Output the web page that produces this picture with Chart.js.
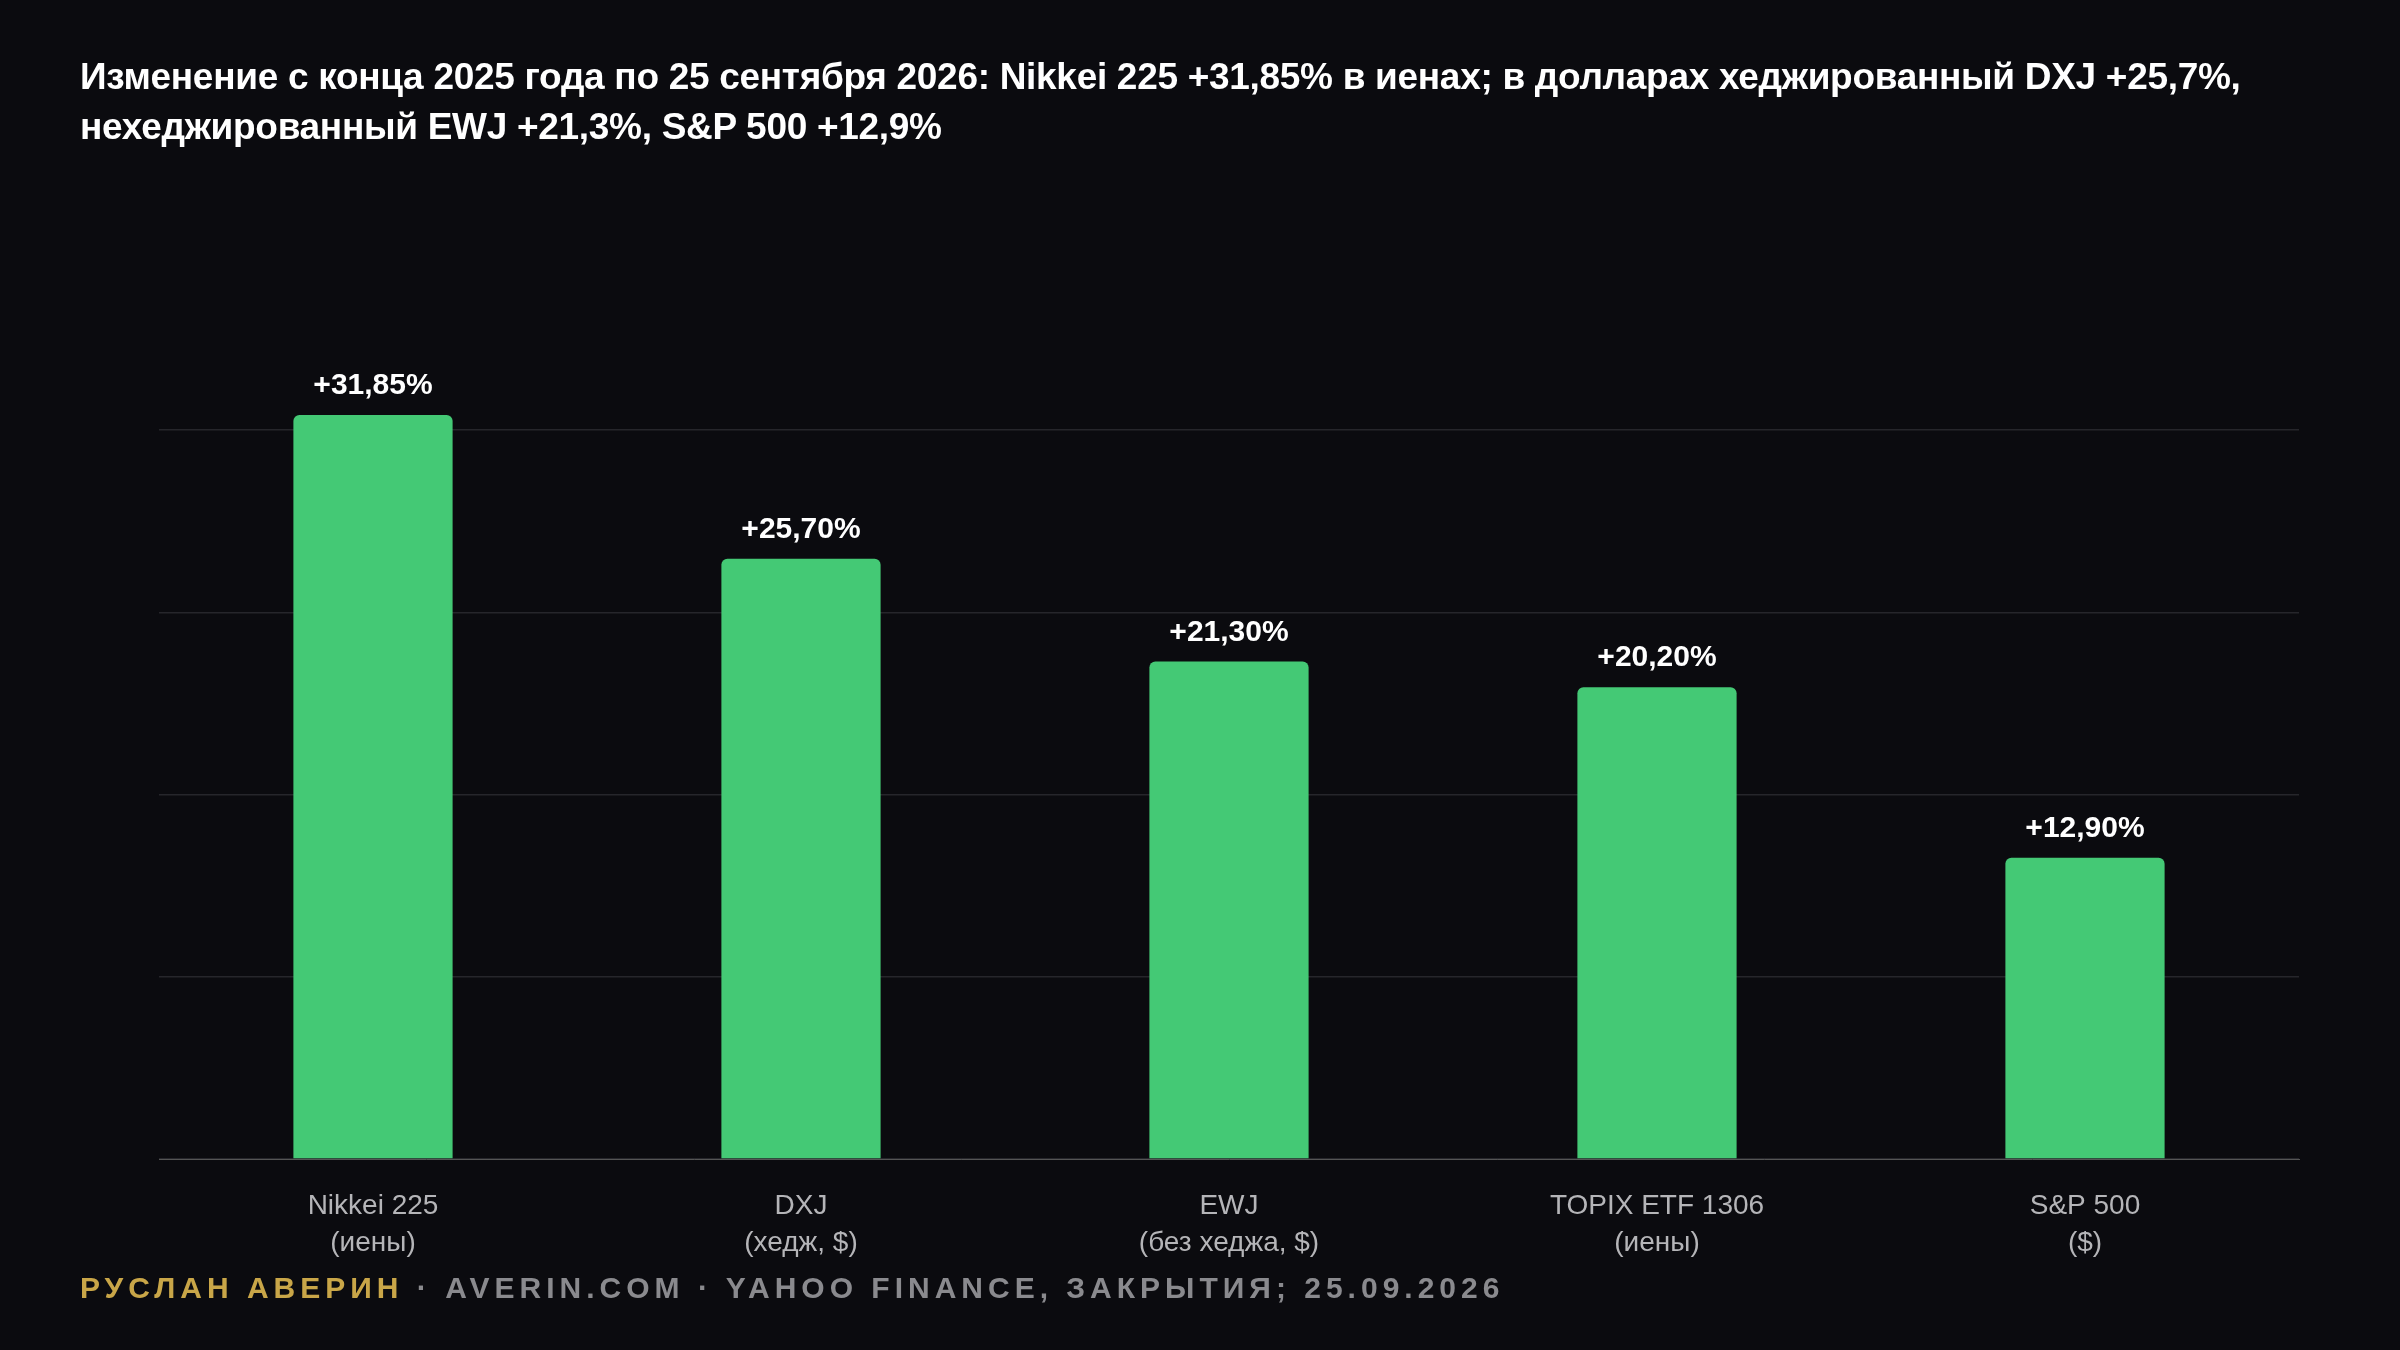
<!DOCTYPE html>
<html><head><meta charset="utf-8">
<script src="https://cdn.jsdelivr.net/npm/chart.js@4"></script>
<style>
html,body{margin:0;padding:0;background:#0b0b0f;width:2400px;height:1350px;overflow:hidden;font-family:"Liberation Sans",Arial,sans-serif}
#title{position:absolute;left:80px;top:52px;width:2180px;color:#fff;font-weight:bold;font-size:37px;line-height:50px;letter-spacing:-0.3px}
#foot{position:absolute;left:80px;top:1271px;font-weight:bold;font-size:30px;letter-spacing:5px;color:#8a8a8e}
#foot b{color:#c9a648}
#wrap{position:absolute;left:0;top:0;width:2400px;height:1350px}
</style></head><body>
<div id="wrap"><canvas id="c"></canvas></div>
<div id="title">Изменение с конца 2025 года по 25 сентября 2026: Nikkei 225 +31,85% в иенах; в долларах хеджированный DXJ +25,7%, нехеджированный EWJ +21,3%, S&amp;P 500 +12,9%</div>
<div id="foot"><b>РУСЛАН АВЕРИН</b> · AVERIN.COM · YAHOO FINANCE, ЗАКРЫТИЯ; 25.09.2026</div>
<script>
const categories=[["Nikkei 225","(иены)"],["DXJ","(хедж, $)"],["EWJ","(без хеджа, $)"],["TOPIX ETF 1306","(иены)"],["S&P 500","($)"]];
const values=[31.85,25.70,21.30,20.20,12.90];
const valueLabels=["+31,85%","+25,70%","+21,30%","+20,20%","+12,90%"];
const labelPlugin={id:'vl',afterDatasetsDraw(ch){const c=ch.ctx;const m=ch.getDatasetMeta(0);c.save();c.fillStyle='#fff';c.font='bold 30px "Liberation Sans",Arial';c.textAlign='center';c.textBaseline='bottom';m.data.forEach((b,i)=>c.fillText(valueLabels[i],b.x,b.y-14));c.restore();}};
new Chart(document.getElementById('c'),{type:'bar',
data:{labels:categories,datasets:[{data:values,backgroundColor:'#44c975',borderRadius:6,borderSkipped:'bottom',barPercentage:0.372,categoryPercentage:1}]},
options:{responsive:true,maintainAspectRatio:false,animation:false,
layout:{padding:{left:159,right:101,top:248,bottom:0}},
plugins:{legend:{display:false},tooltip:{enabled:false}},
scales:{x:{grid:{display:false},border:{color:'#555'},ticks:{color:'#b5b5b8',font:{size:28,family:'"Liberation Sans",Arial',lineHeight:1.35},padding:20},afterFit(s){s.height=191;}},
y:{min:0,max:39,ticks:{display:false,stepSize:7.8},border:{display:false},grid:{color:(ctx)=>ctx.tick&&ctx.tick.value>=39?'rgba(0,0,0,0)':'#26262b',lineWidth:1.5,drawTicks:false},afterFit(s){s.width=0;}}}},
plugins:[labelPlugin]});
</script></body></html>
